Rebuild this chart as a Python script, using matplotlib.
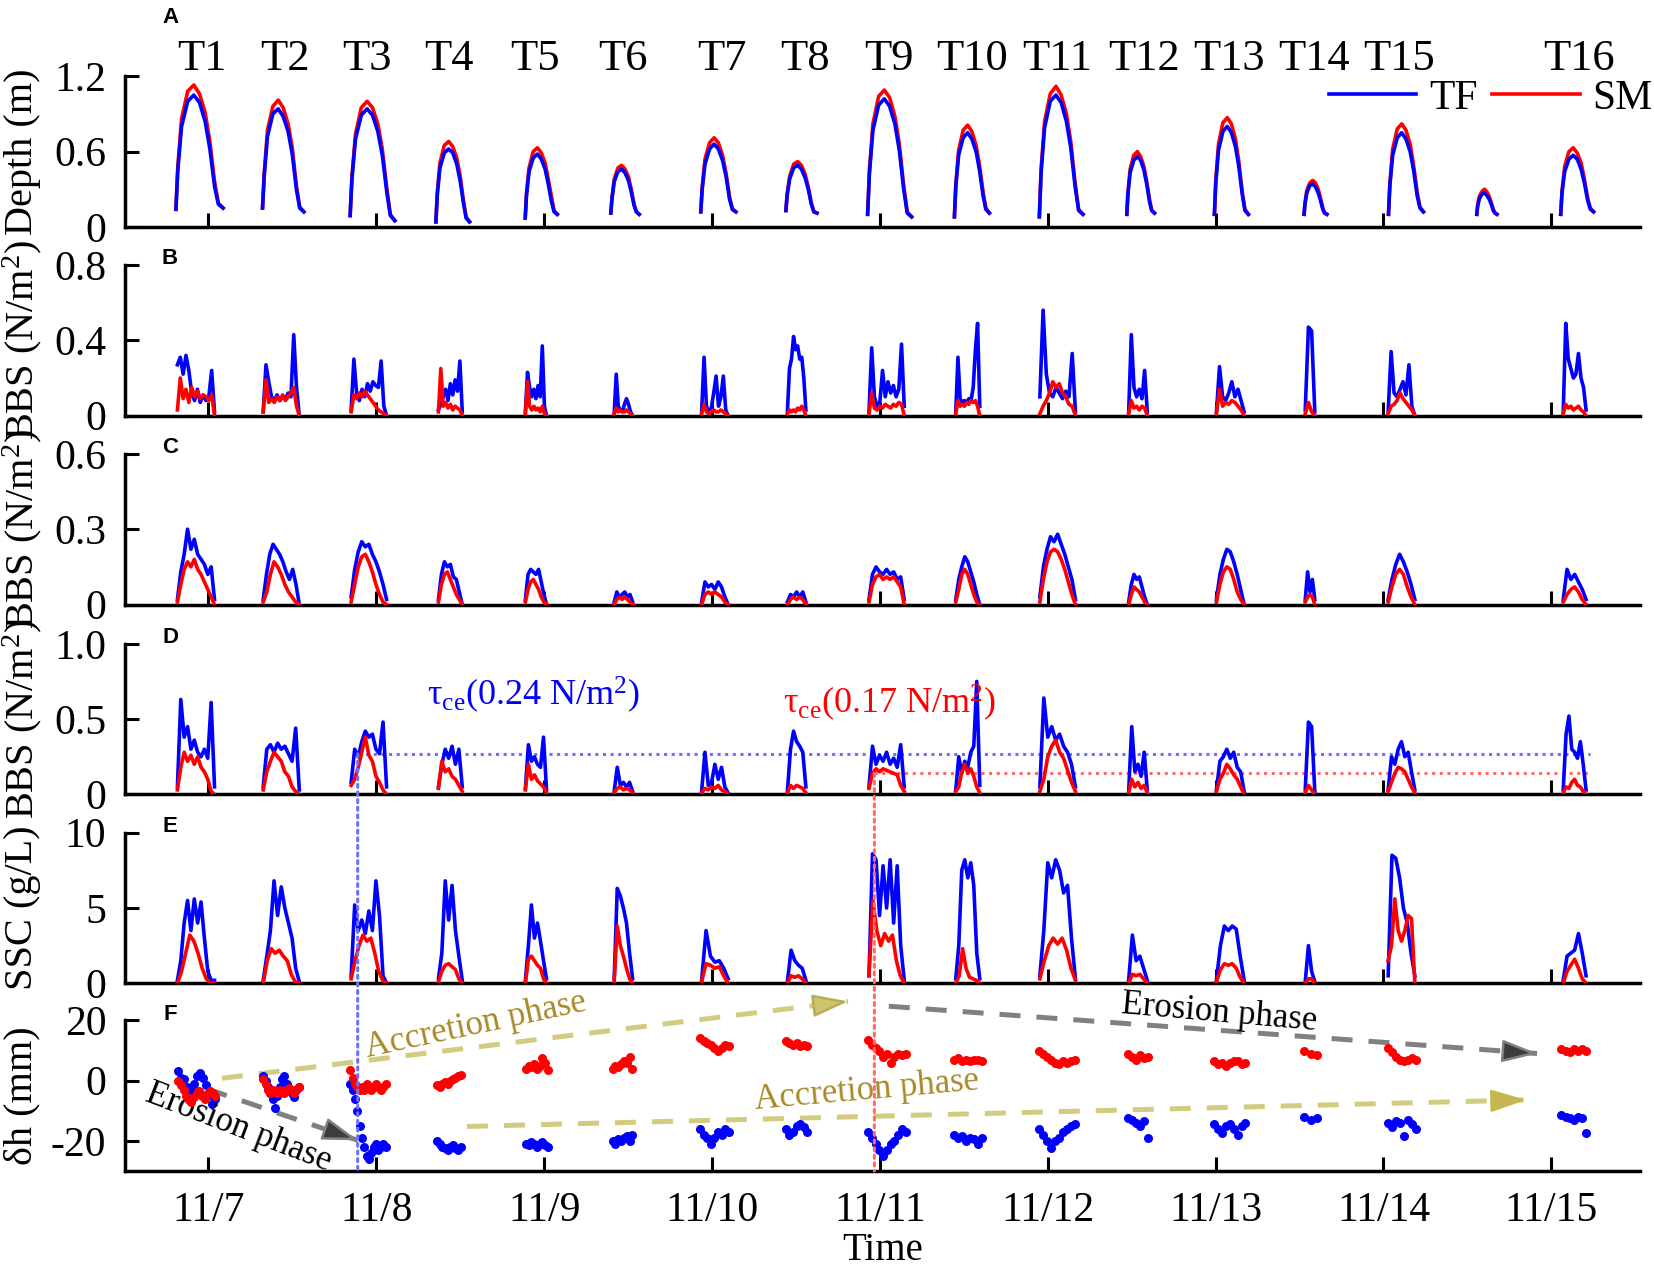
import numpy as np
import matplotlib
matplotlib.use('Agg')
import matplotlib.pyplot as plt
from matplotlib.patches import ConnectionPatch
from matplotlib.transforms import blended_transform_factory

plt.rcParams['font.family'] = ['Liberation Serif', 'DejaVu Serif']
plt.rcParams['mathtext.fontset'] = 'custom'
plt.rcParams['mathtext.rm'] = 'Liberation Serif'
plt.rcParams['mathtext.it'] = 'Liberation Serif:italic'
plt.rcParams['mathtext.bf'] = 'Liberation Serif:bold'

# ---------------- data ----------------
day_ticks = [0, 1, 2, 3, 4, 5, 6, 7, 8]          # days since 11/7 00:00
day_labels = ['11/7', '11/8', '11/9', '11/10', '11/11', '11/12', '11/13', '11/14', '11/15']
tide_names = ['T1', 'T2', 'T3', 'T4', 'T5', 'T6', 'T7', 'T8', 'T9', 'T10',
              'T11', 'T12', 'T13', 'T14', 'T15', 'T16']
tide_name_times = [-0.04, 0.455, 0.943, 1.432, 1.948, 2.468, 3.06, 3.555, 4.056,
                   4.552, 5.053, 5.573, 6.078, 6.589, 7.094, 8.165]

# Panel A: water depth (17 inundations incl. an unlabeled one)
depth_start = [-0.194, 0.322, 0.844, 1.355, 1.887, 2.397, 2.933, 3.440, 3.927,
               4.444, 4.950, 5.471, 5.993, 6.527, 7.030, 7.556, 8.056]
depth_end = [0.087, 0.568, 1.110, 1.555, 2.078, 2.566, 3.142, 3.625, 4.189,
             4.652, 5.210, 5.636, 6.195, 6.663, 7.238, 7.676, 8.252]
depth_frac = [0, 0.04, 0.12, 0.25, 0.38, 0.5, 0.62, 0.72, 0.82, 0.9, 1.0]
depth_tf = [
    [0.14, 0.45, 0.80, 1.00, 1.05, 0.99, 0.84, 0.62, 0.32, 0.18, 0.15],
    [0.15, 0.40, 0.72, 0.90, 0.94, 0.88, 0.76, 0.58, 0.30, 0.15, 0.12],
    [0.09, 0.38, 0.70, 0.89, 0.94, 0.89, 0.76, 0.57, 0.28, 0.09, 0.05],
    [0.04, 0.25, 0.47, 0.59, 0.62, 0.59, 0.50, 0.37, 0.19, 0.07, 0.04],
    [0.07, 0.25, 0.44, 0.55, 0.58, 0.54, 0.46, 0.34, 0.20, 0.12, 0.10],
    [0.11, 0.22, 0.36, 0.44, 0.46, 0.43, 0.37, 0.28, 0.17, 0.12, 0.10],
    [0.12, 0.30, 0.50, 0.62, 0.66, 0.62, 0.53, 0.40, 0.22, 0.14, 0.12],
    [0.13, 0.25, 0.38, 0.47, 0.49, 0.46, 0.39, 0.30, 0.18, 0.12, 0.11],
    [0.10, 0.42, 0.77, 0.97, 1.02, 0.96, 0.82, 0.61, 0.30, 0.11, 0.08],
    [0.08, 0.32, 0.57, 0.71, 0.75, 0.70, 0.60, 0.45, 0.25, 0.14, 0.11],
    [0.08, 0.43, 0.79, 1.00, 1.05, 0.99, 0.84, 0.63, 0.32, 0.13, 0.10],
    [0.10, 0.26, 0.43, 0.53, 0.56, 0.53, 0.45, 0.34, 0.20, 0.13, 0.11],
    [0.10, 0.35, 0.61, 0.76, 0.80, 0.75, 0.64, 0.48, 0.26, 0.13, 0.10],
    [0.10, 0.18, 0.27, 0.33, 0.34, 0.32, 0.27, 0.21, 0.14, 0.11, 0.10],
    [0.10, 0.33, 0.57, 0.71, 0.75, 0.70, 0.60, 0.45, 0.25, 0.15, 0.12],
    [0.10, 0.16, 0.22, 0.26, 0.27, 0.25, 0.22, 0.18, 0.13, 0.11, 0.10],
    [0.10, 0.27, 0.44, 0.54, 0.57, 0.54, 0.46, 0.35, 0.21, 0.14, 0.12],
]
depth_sm = [
    [0.14, 0.48, 0.86, 1.08, 1.13, 1.06, 0.91, 0.68, 0.36, 0.19, 0.15],
    [0.15, 0.42, 0.77, 0.96, 1.01, 0.95, 0.82, 0.63, 0.33, 0.16, 0.12],
    [0.09, 0.40, 0.74, 0.95, 1.00, 0.95, 0.82, 0.62, 0.31, 0.10, 0.05],
    [0.04, 0.27, 0.51, 0.65, 0.68, 0.64, 0.55, 0.41, 0.21, 0.08, 0.04],
    [0.07, 0.27, 0.47, 0.60, 0.63, 0.59, 0.51, 0.38, 0.24, 0.13, 0.10],
    [0.11, 0.23, 0.38, 0.47, 0.49, 0.46, 0.40, 0.30, 0.18, 0.12, 0.10],
    [0.12, 0.32, 0.54, 0.67, 0.71, 0.67, 0.57, 0.43, 0.24, 0.14, 0.12],
    [0.13, 0.26, 0.40, 0.50, 0.52, 0.49, 0.42, 0.32, 0.19, 0.12, 0.11],
    [0.10, 0.45, 0.82, 1.04, 1.09, 1.03, 0.88, 0.66, 0.33, 0.12, 0.08],
    [0.08, 0.34, 0.61, 0.77, 0.81, 0.76, 0.65, 0.49, 0.28, 0.15, 0.11],
    [0.08, 0.46, 0.84, 1.06, 1.12, 1.05, 0.90, 0.68, 0.35, 0.14, 0.10],
    [0.10, 0.27, 0.46, 0.57, 0.60, 0.56, 0.48, 0.36, 0.22, 0.13, 0.11],
    [0.10, 0.37, 0.66, 0.83, 0.87, 0.82, 0.70, 0.52, 0.28, 0.14, 0.10],
    [0.10, 0.19, 0.29, 0.35, 0.37, 0.35, 0.30, 0.23, 0.15, 0.11, 0.10],
    [0.10, 0.35, 0.62, 0.78, 0.82, 0.77, 0.66, 0.49, 0.28, 0.16, 0.12],
    [0.10, 0.17, 0.24, 0.28, 0.30, 0.28, 0.24, 0.19, 0.14, 0.11, 0.10],
    [0.10, 0.29, 0.48, 0.60, 0.63, 0.59, 0.51, 0.38, 0.23, 0.15, 0.12],
]

# Sensor (BBS, SSC) windows for T1-T16
sensor_start = [-0.185, 0.326, 0.850, 1.370, 1.888, 2.417, 2.938, 3.449, 3.935,
                4.452, 4.953, 5.482, 6.005, 6.534, 7.028, 8.071]
sensor_end = [0.036, 0.541, 1.061, 1.512, 2.014, 2.527, 3.096, 3.559, 4.145,
              4.595, 5.165, 5.593, 6.170, 6.591, 7.187, 8.207]

# Panel B: BBS (N/m2)
bbs_b_tf = [
    [0.27, 0.31, 0.22, 0.32, 0.24, 0.12, 0.08, 0.14, 0.07, 0.11, 0.08, 0.10, 0.24, 0.02],
    [0.02, 0.27, 0.18, 0.10, 0.08, 0.11, 0.08, 0.10, 0.09, 0.12, 0.10, 0.43, 0.15, 0.00],
    [0.03, 0.30, 0.12, 0.08, 0.14, 0.10, 0.17, 0.13, 0.18, 0.16, 0.15, 0.29, 0.05, 0.00],
    [0.03, 0.06, 0.10, 0.14, 0.08, 0.17, 0.11, 0.19, 0.13, 0.29, 0.02],
    [0.02, 0.23, 0.15, 0.10, 0.14, 0.09, 0.16, 0.10, 0.37, 0.05, 0.00],
    [0.01, 0.22, 0.05, 0.03, 0.02, 0.06, 0.09, 0.06, 0.02, 0.00],
    [0.02, 0.31, 0.05, 0.02, 0.04, 0.12, 0.21, 0.05, 0.10, 0.21, 0.03, 0.00],
    [0.02, 0.25, 0.30, 0.42, 0.35, 0.37, 0.30, 0.31, 0.20, 0.03],
    [0.02, 0.36, 0.10, 0.05, 0.07, 0.24, 0.10, 0.18, 0.12, 0.16, 0.10, 0.14, 0.38, 0.05],
    [0.02, 0.31, 0.09, 0.07, 0.08, 0.07, 0.09, 0.08, 0.15, 0.35, 0.49, 0.05],
    [0.10, 0.56, 0.22, 0.12, 0.10, 0.15, 0.12, 0.09, 0.13, 0.10, 0.33, 0.02],
    [0.02, 0.43, 0.15, 0.10, 0.14, 0.09, 0.24, 0.02],
    [0.02, 0.26, 0.10, 0.08, 0.12, 0.18, 0.10, 0.14, 0.08, 0.02],
    [0.03, 0.47, 0.45, 0.02],
    [0.02, 0.34, 0.12, 0.10, 0.14, 0.18, 0.11, 0.27, 0.05, 0.00],
    [0.02, 0.49, 0.30, 0.25, 0.20, 0.22, 0.33, 0.20, 0.15, 0.03],
]
bbs_b_sm = [
    [0.03, 0.20, 0.09, 0.14, 0.07, 0.15, 0.10, 0.13, 0.09, 0.11, 0.10, 0.08, 0.11, 0.00],
    [0.02, 0.19, 0.07, 0.09, 0.07, 0.10, 0.08, 0.11, 0.08, 0.10, 0.12, 0.15, 0.05, 0.00],
    [0.02, 0.11, 0.09, 0.12, 0.10, 0.13, 0.11, 0.09, 0.07, 0.05, 0.03, 0.02, 0.01, 0.00],
    [0.02, 0.25, 0.05, 0.07, 0.04, 0.06, 0.03, 0.05, 0.04, 0.03, 0.00],
    [0.01, 0.18, 0.05, 0.03, 0.05, 0.03, 0.04, 0.02, 0.05, 0.01, 0.00],
    [0.01, 0.04, 0.02, 0.03, 0.02, 0.02, 0.03, 0.02, 0.01, 0.00],
    [0.01, 0.06, 0.02, 0.01, 0.02, 0.03, 0.02, 0.02, 0.03, 0.02, 0.01, 0.00],
    [0.01, 0.03, 0.02, 0.03, 0.02, 0.04, 0.03, 0.05, 0.03, 0.00],
    [0.01, 0.12, 0.04, 0.03, 0.05, 0.04, 0.06, 0.05, 0.04, 0.06, 0.05, 0.07, 0.06, 0.00],
    [0.01, 0.08, 0.05, 0.06, 0.05, 0.07, 0.06, 0.08, 0.07, 0.08, 0.05, 0.00],
    [0.01, 0.05, 0.08, 0.12, 0.18, 0.15, 0.17, 0.12, 0.10, 0.06, 0.05, 0.00],
    [0.01, 0.08, 0.04, 0.05, 0.03, 0.05, 0.04, 0.00],
    [0.01, 0.14, 0.05, 0.07, 0.06, 0.08, 0.07, 0.05, 0.03, 0.00],
    [0.01, 0.07, 0.02, 0.00],
    [0.01, 0.05, 0.06, 0.08, 0.12, 0.09, 0.07, 0.05, 0.03, 0.00],
    [0.01, 0.06, 0.04, 0.05, 0.03, 0.04, 0.05, 0.03, 0.02, 0.00],
]

# Panel C: BBS (N/m2)
bbs_c_tf = [
    [0.02, 0.13, 0.20, 0.30, 0.22, 0.26, 0.20, 0.18, 0.16, 0.12, 0.15, 0.02],
    [0.02, 0.12, 0.20, 0.24, 0.22, 0.20, 0.17, 0.13, 0.10, 0.14, 0.08, 0.00],
    [0.03, 0.14, 0.21, 0.25, 0.23, 0.24, 0.20, 0.17, 0.13, 0.08, 0.02],
    [0.02, 0.12, 0.17, 0.15, 0.16, 0.11, 0.10, 0.05, 0.00],
    [0.02, 0.12, 0.14, 0.13, 0.12, 0.14, 0.09, 0.04, 0.00],
    [0.01, 0.05, 0.03, 0.04, 0.05, 0.03, 0.04, 0.01],
    [0.01, 0.09, 0.07, 0.08, 0.06, 0.09, 0.07, 0.03, 0.00],
    [0.01, 0.04, 0.03, 0.05, 0.03, 0.05, 0.01],
    [0.02, 0.12, 0.15, 0.13, 0.12, 0.14, 0.12, 0.13, 0.10, 0.11, 0.02],
    [0.02, 0.10, 0.15, 0.19, 0.17, 0.13, 0.09, 0.04, 0.00],
    [0.03, 0.15, 0.22, 0.27, 0.25, 0.28, 0.24, 0.20, 0.15, 0.10, 0.02],
    [0.01, 0.08, 0.12, 0.10, 0.11, 0.07, 0.03, 0.00],
    [0.02, 0.12, 0.18, 0.22, 0.21, 0.17, 0.12, 0.06, 0.00],
    [0.02, 0.13, 0.05, 0.10, 0.02],
    [0.02, 0.10, 0.16, 0.20, 0.17, 0.13, 0.08, 0.02],
    [0.02, 0.14, 0.10, 0.12, 0.09, 0.06, 0.02],
]
bbs_c_sm = [
    [0.01, 0.08, 0.14, 0.17, 0.15, 0.18, 0.14, 0.12, 0.09, 0.06, 0.03, 0.00],
    [0.01, 0.05, 0.12, 0.17, 0.15, 0.12, 0.08, 0.05, 0.03, 0.01, 0.00],
    [0.01, 0.08, 0.15, 0.19, 0.20, 0.17, 0.13, 0.08, 0.04, 0.01, 0.00],
    [0.01, 0.08, 0.12, 0.13, 0.10, 0.07, 0.04, 0.02, 0.00],
    [0.01, 0.06, 0.09, 0.10, 0.08, 0.06, 0.03, 0.01, 0.00],
    [0.00, 0.02, 0.03, 0.02, 0.03, 0.02, 0.01, 0.00],
    [0.00, 0.04, 0.05, 0.04, 0.05, 0.04, 0.03, 0.01, 0.00],
    [0.00, 0.02, 0.03, 0.02, 0.03, 0.02, 0.00],
    [0.01, 0.08, 0.11, 0.12, 0.10, 0.11, 0.10, 0.11, 0.09, 0.07, 0.00],
    [0.01, 0.06, 0.12, 0.14, 0.12, 0.08, 0.04, 0.01, 0.00],
    [0.01, 0.10, 0.17, 0.21, 0.22, 0.21, 0.18, 0.14, 0.09, 0.04, 0.00],
    [0.00, 0.04, 0.07, 0.06, 0.05, 0.03, 0.01, 0.00],
    [0.01, 0.08, 0.13, 0.15, 0.14, 0.10, 0.05, 0.02, 0.00],
    [0.01, 0.03, 0.04, 0.03, 0.00],
    [0.01, 0.07, 0.12, 0.14, 0.12, 0.07, 0.03, 0.00],
    [0.01, 0.04, 0.06, 0.07, 0.05, 0.02, 0.00],
]

# Panel D: BBS (N/m2)
bbs_d_tf = [
    [0.05, 0.63, 0.38, 0.45, 0.30, 0.36, 0.28, 0.25, 0.30, 0.24, 0.61, 0.05],
    [0.05, 0.30, 0.33, 0.28, 0.34, 0.30, 0.32, 0.27, 0.22, 0.44, 0.03],
    [0.08, 0.30, 0.25, 0.35, 0.42, 0.38, 0.40, 0.30, 0.27, 0.48, 0.05],
    [0.05, 0.20, 0.30, 0.24, 0.32, 0.20, 0.30, 0.05],
    [0.04, 0.33, 0.22, 0.25, 0.20, 0.18, 0.38, 0.03],
    [0.02, 0.18, 0.06, 0.08, 0.05, 0.08, 0.02],
    [0.02, 0.28, 0.06, 0.08, 0.20, 0.10, 0.18, 0.05, 0.01],
    [0.02, 0.30, 0.42, 0.35, 0.32, 0.28, 0.05],
    [0.05, 0.32, 0.20, 0.26, 0.22, 0.28, 0.20, 0.24, 0.18, 0.33, 0.05],
    [0.03, 0.25, 0.14, 0.22, 0.18, 0.28, 0.32, 0.75, 0.06],
    [0.05, 0.64, 0.38, 0.45, 0.36, 0.40, 0.32, 0.28, 0.20, 0.05],
    [0.02, 0.45, 0.15, 0.20, 0.12, 0.28, 0.03],
    [0.03, 0.22, 0.25, 0.30, 0.24, 0.28, 0.18, 0.15, 0.02],
    [0.03, 0.48, 0.45, 0.02],
    [0.03, 0.25, 0.20, 0.30, 0.35, 0.25, 0.28, 0.15, 0.03],
    [0.03, 0.40, 0.52, 0.30, 0.28, 0.24, 0.35, 0.20, 0.03],
]
bbs_d_sm = [
    [0.03, 0.18, 0.28, 0.22, 0.26, 0.20, 0.25, 0.18, 0.15, 0.10, 0.02, 0.00],
    [0.03, 0.15, 0.22, 0.28, 0.25, 0.22, 0.15, 0.12, 0.05, 0.02, 0.00],
    [0.06, 0.10, 0.18, 0.28, 0.38, 0.26, 0.22, 0.12, 0.08, 0.03, 0.00],
    [0.04, 0.22, 0.15, 0.17, 0.12, 0.10, 0.06, 0.02],
    [0.03, 0.20, 0.10, 0.13, 0.09, 0.07, 0.05, 0.01],
    [0.01, 0.04, 0.05, 0.03, 0.04, 0.03, 0.01],
    [0.01, 0.04, 0.03, 0.05, 0.04, 0.06, 0.03, 0.02, 0.00],
    [0.01, 0.06, 0.04, 0.06, 0.05, 0.04, 0.01],
    [0.04, 0.14, 0.17, 0.15, 0.17, 0.16, 0.15, 0.14, 0.13, 0.06, 0.02],
    [0.02, 0.05, 0.15, 0.20, 0.14, 0.17, 0.12, 0.05, 0.01],
    [0.02, 0.10, 0.25, 0.32, 0.36, 0.28, 0.24, 0.16, 0.08, 0.02],
    [0.01, 0.10, 0.05, 0.08, 0.04, 0.06, 0.01],
    [0.02, 0.10, 0.14, 0.20, 0.17, 0.13, 0.10, 0.05, 0.00],
    [0.01, 0.06, 0.03, 0.00],
    [0.02, 0.08, 0.14, 0.18, 0.17, 0.15, 0.10, 0.05, 0.01],
    [0.01, 0.05, 0.04, 0.08, 0.10, 0.06, 0.05, 0.02, 0.00],
]
tce_tf_level = 0.27
tce_sm_level = 0.14
tce_tf_time = 0.889
tce_sm_time = 3.967
tce_end_time = 8.23

# Panel E: SSC (g/L)
ssc_tf = [
    [0.2, 1.5, 4.0, 5.5, 3.5, 5.6, 4.0, 5.4, 3.0, 0.8, 0.2, 0.2],
    [0.2, 1.8, 3.5, 6.8, 4.5, 6.4, 5.0, 4.0, 3.0, 1.0, 0.1],
    [0.5, 5.2, 3.5, 4.2, 3.3, 4.8, 3.5, 6.8, 4.5, 0.5, 0.0],
    [0.3, 2.0, 6.8, 4.2, 6.5, 3.5, 1.8, 0.2],
    [0.2, 2.5, 5.2, 3.0, 4.0, 2.8, 1.5, 0.3],
    [0.3, 6.3, 5.8, 5.0, 4.0, 2.0, 0.3],
    [0.2, 3.5, 1.8, 1.4, 1.5, 1.0, 0.3],
    [0.1, 2.2, 1.5, 1.2, 1.0, 0.2],
    [0.5, 8.6, 8.2, 4.5, 7.8, 5.0, 8.2, 4.0, 7.8, 2.5, 0.2],
    [0.3, 2.5, 7.5, 8.2, 7.0, 8.0, 6.5, 2.0, 0.3],
    [0.5, 3.5, 8.0, 7.0, 8.2, 7.5, 6.0, 6.5, 3.0, 0.3],
    [0.2, 3.2, 1.5, 1.8, 1.0, 0.2],
    [0.2, 2.5, 3.8, 3.5, 3.8, 3.6, 1.8, 0.2],
    [0.1, 2.5, 0.8, 0.1],
    [0.5, 8.5, 8.3, 7.0, 5.0, 4.0, 2.0, 0.5],
    [0.2, 1.8, 2.0, 2.2, 3.3, 2.0, 0.5],
]
ssc_sm = [
    [0.0, 0.8, 2.0, 3.2, 2.8, 2.0, 1.0, 0.3, 0.0, 0.0],
    [0.0, 1.5, 2.3, 2.0, 2.2, 1.8, 1.5, 0.6, 0.1, 0.0],
    [0.3, 1.5, 2.5, 3.2, 2.8, 3.0, 2.0, 0.8, 0.2, 0.0],
    [0.1, 0.8, 1.2, 1.3, 1.1, 0.9, 0.3, 0.0],
    [0.0, 1.6, 1.8, 1.5, 1.2, 1.0, 0.3, 0.0],
    [0.1, 3.8, 2.5, 1.8, 1.0, 0.3, 0.0],
    [0.1, 1.3, 1.2, 1.0, 1.1, 0.5, 0.0],
    [0.0, 0.5, 0.4, 0.5, 0.3, 0.0],
    [0.5, 5.5, 3.5, 2.5, 3.3, 2.8, 3.2, 1.5, 0.5, 0.0],
    [0.0, 0.5, 2.3, 1.0, 0.4, 0.3, 0.2, 0.0],
    [0.3, 1.5, 2.5, 3.0, 2.6, 3.0, 2.2, 1.0, 0.2],
    [0.0, 0.6, 0.5, 0.6, 0.3, 0.0],
    [0.1, 0.9, 1.3, 1.2, 1.3, 1.0, 0.4, 0.0],
    [0.0, 0.3, 0.3, 0.0],
    [1.5, 2.5, 5.6, 3.5, 2.8, 3.5, 4.5, 4.3, 0.0],
    [0.0, 0.8, 1.2, 1.6, 1.0, 0.3, 0.0],
]

# Panel F: bed-level change dh (mm)
dh_start = [-0.18, 0.326, 0.844, 1.362, 1.892, 2.408, 2.929, 3.440, 3.930,
            4.440, 4.947, 5.478, 5.989, 6.527, 7.025, 8.060]
dh_end = [0.04, 0.537, 1.055, 1.503, 2.021, 2.525, 3.099, 3.568, 4.153,
          4.610, 5.164, 5.599, 6.178, 6.607, 7.194, 8.209]
dh_tf = [
    [3.3, 1, 0.5, -2, -3, -1, 1.6, 2.7, 1, -1.6, -4.9, -7.7, -6],
    [1.5, 0, -2, -4, -6, -9, -5, -2, 0.5, 1.5, -1, -3, -4, -5.5, -3, -2],
    [-1, -3, -6, -10, -15, -19, -22, -25, -26, -24, -22, -21, -23, -22, -21, -22],
    [-20, -21, -22, -22.5, -23, -22, -21.5, -22.5, -23, -22],
    [-21, -21.5, -20.5, -21, -22, -21, -20.5, -21.5, -22],
    [-20, -21, -19.5, -20, -19, -18.5, -20, -18],
    [-16, -18, -19, -21, -19, -17, -18, -16, -17],
    [-16, -18, -17, -15, -14.5, -15.5, -17],
    [-17, -19, -21, -23, -25, -23, -21, -20, -18, -16, -17],
    [-18, -19, -18.5, -20, -19, -19.5, -21, -19],
    [-16, -18, -20, -22.5, -20, -19, -17, -16, -15, -14.5],
    [-12.5, -13, -14, -15, -13.5, -19],
    [-14.5, -16, -17.5, -15, -14.5, -16, -18, -15, -14],
    [-12, -13, -12.5],
    [-14, -15.5, -13.5, -14, -18.5, -13, -14.5, -16],
    [-11.5, -12, -12.5, -13, -12, -12.5, -17.5],
]
dh_sm = [
    [0, -1.5, -3, -5, -6.5, -7, -5.5, -4, -3.5, -5, -6, -4.5, -3.3, -4, -5],
    [0.5, -1, -3, -4, -3, -3.5, -4, -3, -3.5, -4, -3, -2.5, -3, -4, -3, -2],
    [3.5, 1, -1, -2, -3, -2, -3, -1, -2, -3, -2, -1, -2, -3, -2, -1],
    [-1.5, -2, -1, -0.5, -1, 0, 0.5, 1, 1.5, 2],
    [4, 5, 4.5, 5.5, 4, 5, 7.5, 6, 3.5],
    [4, 5, 4.5, 5.5, 6.5, 6, 8, 4],
    [14, 13, 12.5, 12, 11, 10, 11, 12, 11.5],
    [13, 12.5, 12, 12.5, 11.5, 12, 11.5],
    [13.5, 12, 11, 10, 8, 9, 6, 8, 9, 8.5, 9],
    [7, 7.5, 6.5, 7, 6.5, 7, 7, 6.5],
    [10, 9, 8, 7, 6, 5.5, 6.5, 6, 6.5, 7],
    [9, 8, 7, 8.5, 7.5, 8],
    [6.5, 5.5, 6, 5, 6, 6.5, 6.5, 5.5, 6],
    [10, 9, 8.5],
    [11, 9.5, 8, 7, 6.5, 7, 7.5, 7],
    [10.5, 10, 9.5, 10.5, 10, 10.5, 10],
]

# Trend arrows in panel F: (start_time, start_dh, end_time, end_dh)
arrow_accr_upper = (0.08, 0.8, 3.81, 26.3)
arrow_eros_lower = (-0.01, -2.7, 0.89, -19.8)
arrow_accr_lower = (1.54, -15.2, 7.85, -6.4)
arrow_eros_upper = (4.053, 24.7, 7.917, 9.0)

# ---------------- figure ----------------
BLUE = '#0000ff'
RED = '#ff0000'
OLIVE = '#d3cb80'
OLIVE_TXT = '#a88a2a'
GRAY = '#808080'
SERIF = ['Liberation Serif', 'DejaVu Serif']

fig = plt.figure(figsize=(16.54, 12.66), dpi=100)
left, width, height = 0.0753, 0.9164, 0.119
bottoms = [0.8208, 0.6717, 0.5225, 0.3725, 0.2233, 0.075]
axes = [fig.add_axes([left, b, width, height]) for b in bottoms]
axA, axB, axC, axD, axE, axF = axes

ylims = [(0, 1.2), (0, 0.8), (0, 0.6), (0, 1.0), (0, 10), (-30, 20)]
yticks = [[0, 0.6, 1.2], [0, 0.4, 0.8], [0, 0.3, 0.6], [0, 0.5, 1.0], [0, 5, 10], [-20, 0, 20]]
yticklabels = [['0', '0.6', '1.2'], ['0', '0.4', '0.8'], ['0', '0.3', '0.6'],
               ['0', '0.5', '1.0'], ['0', '5', '10'], ['-20', '0', '20']]
ylabels = ['Depth (m)', 'BBS (N/m$^{2}$)', 'BBS (N/m$^{2}$)', 'BBS (N/m$^{2}$)',
           'SSC (g/L)', 'δh (mm)']
letters = ['A', 'B', 'C', 'D', 'E', 'F']

for i, ax in enumerate(axes):
    ax.set_xlim(-0.5, 8.53)
    ax.set_ylim(*ylims[i])
    ax.set_facecolor('none')
    for s in ['top', 'right']:
        ax.spines[s].set_visible(False)
    for s in ['left', 'bottom']:
        ax.spines[s].set_linewidth(2.5)
    ax.set_xticks(day_ticks)
    ax.set_yticks(yticks[i])
    ax.set_yticklabels(yticklabels[i], family=SERIF, fontsize=30)
    ax.tick_params(axis='both', direction='in', length=10, width=2.2)
    ax.tick_params(axis='y', pad=13)
    if i < 5:
        ax.set_xticklabels([])
    else:
        ax.set_xticklabels(day_labels, family=SERIF, fontsize=30)
        ax.tick_params(axis='x', pad=15)
    ly = 1.387 if i == 0 else 1.04
    ax.text(0.030, ly, letters[i], transform=ax.transAxes, ha='center', va='center',
            fontsize=16, fontweight='bold', family=['Liberation Sans', 'DejaVu Sans'])
    fig.text(0.0135, bottoms[i] + height / 2, ylabels[i], rotation=90,
             ha='center', va='center', fontsize=29)

LW = 2.6
# Panel A
for i in range(len(depth_start)):
    t = depth_start[i] + np.array(depth_frac) * (depth_end[i] - depth_start[i])
    axA.plot(t, depth_sm[i], color=RED, lw=LW, zorder=2, label='SM' if i == 0 else None)
    axA.plot(t, depth_tf[i], color=BLUE, lw=LW, zorder=3, label='TF' if i == 0 else None)
trans = blended_transform_factory(axA.transData, axA.transAxes)
for name, tt in zip(tide_names, tide_name_times):
    axA.text(tt, 1.04, name, transform=trans, ha='center', va='baseline', fontsize=32)
h, l = axA.get_legend_handles_labels()
order = [l.index('TF'), l.index('SM')]
axA.legend([h[k] for k in order], [l[k] for k in order], loc='center right',
           bbox_to_anchor=(1.008, 0.852), ncol=2, frameon=False, fontsize=30,
           handlelength=2.1, handletextpad=0.3, columnspacing=0.35,
           borderpad=0, borderaxespad=0)

# Panels B-E
for ax, tf, sm in [(axB, bbs_b_tf, bbs_b_sm), (axC, bbs_c_tf, bbs_c_sm),
                   (axD, bbs_d_tf, bbs_d_sm), (axE, ssc_tf, ssc_sm)]:
    for i in range(len(sensor_start)):
        t1 = np.linspace(sensor_start[i], sensor_end[i], len(tf[i]))
        t2 = np.linspace(sensor_start[i], sensor_end[i], len(sm[i]))
        ax.plot(t1, tf[i], color=BLUE, lw=LW, zorder=2)
        ax.plot(t2, sm[i], color=RED, lw=LW, zorder=3)

DOT = (0, (1, 1.5))
axD.plot([tce_tf_time, tce_end_time], [tce_tf_level, tce_tf_level], color='#6f6fff',
         lw=2.2, linestyle=DOT, zorder=1)
axD.plot([tce_sm_time, tce_end_time], [tce_sm_level, tce_sm_level], color='#ff6b6b',
         lw=2.2, linestyle=DOT, zorder=1)
axD.text(1.30, 0.66, 'τ$_{\\mathrm{ce}}$(0.24 N/m$^{2}$)', color=BLUE, fontsize=26,
         ha='left', va='center')
axD.text(3.42, 0.61, 'τ$_{\\mathrm{ce}}$(0.17 N/m$^{2}$)', color=RED, fontsize=26,
         ha='left', va='center')
for tt, lev, col in [(tce_tf_time, tce_tf_level, '#6f6fff'), (tce_sm_time, tce_sm_level, '#ff6b6b')]:
    cp = ConnectionPatch(xyA=(tt, lev), coordsA=axD.transData, xyB=(tt, -30),
                         coordsB=axF.transData, color=col, lw=2.2, linestyle=DOT, zorder=5)
    fig.add_artist(cp)

# Panel F
for i in range(len(dh_start)):
    t1 = np.linspace(dh_start[i], dh_end[i], len(dh_tf[i]))
    t2 = np.linspace(dh_start[i], dh_end[i], len(dh_sm[i]))
    axF.scatter(t1, dh_tf[i], s=42, color=BLUE, linewidths=0, zorder=3, clip_on=False)
    axF.scatter(t2, dh_sm[i], s=42, color=RED, linewidths=0, zorder=4, clip_on=False)


def dashed_arrow(ax, arr, color, head_fc, head_ec):
    x0, y0, x1, y1 = arr
    ax.plot([x0, x1], [y0, y1], color=color, lw=3.6, dashes=(4.2, 3.2),
            clip_on=False, dash_capstyle='butt', zorder=2)
    bx, by = x1 - 0.03 * (x1 - x0), y1 - 0.03 * (y1 - y0)
    ax.annotate('', xy=(x1, y1), xytext=(bx, by),
                arrowprops=dict(arrowstyle='-|>,head_length=1.0,head_width=0.32',
                                mutation_scale=22, fc=head_fc, ec=head_ec, lw=1.8,
                                shrinkA=0, shrinkB=0),
                annotation_clip=False, zorder=2)


dashed_arrow(axF, arrow_accr_upper, OLIVE, '#cdc36e', '#b8ad55')
dashed_arrow(axF, arrow_eros_lower, GRAY, '#3c3c3c', '#808080')
dashed_arrow(axF, arrow_accr_lower, OLIVE, '#c6b84e', '#c6b84e')
dashed_arrow(axF, arrow_eros_upper, GRAY, '#3c3c3c', '#808080')

axF.text(1.59, 18.4, 'Accretion phase', color=OLIVE_TXT, fontsize=25, rotation=12,
         ha='center', va='center', rotation_mode='anchor')
axF.text(3.92, -3.4, 'Accretion phase', color=OLIVE_TXT, fontsize=25, rotation=5,
         ha='center', va='center', rotation_mode='anchor')
axF.text(0.18, -15.5, 'Erosion phase', color='black', fontsize=25, rotation=-21,
         ha='center', va='center', rotation_mode='anchor')
axF.text(6.02, 22.5, 'Erosion phase', color='black', fontsize=25, rotation=-5,
         ha='center', va='center', rotation_mode='anchor')

fig.text(left + width / 2, 0.0125, 'Time', ha='center', va='center', fontsize=28,
         family=SERIF)

fig.savefig('out.png', dpi=100)
